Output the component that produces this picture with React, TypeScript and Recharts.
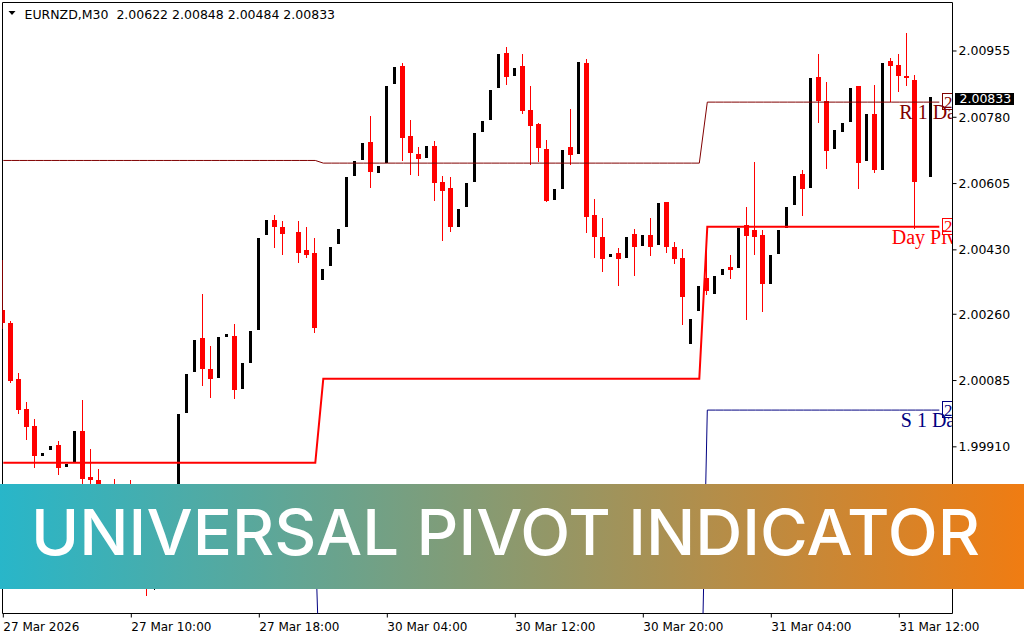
import React from "react";
import {
  Bar,
  ComposedChart,
  Line,
  ReferenceArea,
  ReferenceDot,
  XAxis,
  YAxis,
} from "recharts";

const symbol = "EURNZD,M30";
const lastQuote = [2.00622, 2.00848, 2.00484, 2.00833];

// M30 candles, one entry per bar (null = no candle drawn)
const opens = [
  2.00271, 2.00237, 2.00089, 2.0001, 1.99965, 1.99886, 1.99902, 1.99915, 1.99857, 1.9987,
  1.99952, 1.9983, 1.99822, 1.99778, 1.9973, 1.9969, 1.99717, 1.99643, 1.99598, 1.99545,
  1.99585, 1.99624, 1.99664, 1.99999, 2.00108, 2.00197, 2.00115, 2.00092, 2.002, 2.00203,
  2.00063, 2.00131, 2.00218, 2.00469, 2.00509, 2.0049, null, 2.00477, 2.0043, 2.00422,
  2.0035, 2.00387, 2.00445, 2.0049, 2.00625, 2.00667, 2.00715, 2.00633, 2.00659, 2.00868,
  2.00915, 2.00731, 2.00683, 2.00673, 2.00704, 2.00609, 2.00593, 2.0049, 2.00543, 2.00609,
  2.00741, 2.00773, 2.00857, 2.0095, 2.00889, 2.00915, 2.00799, 2.00762, 2.00696, 2.00562,
  2.00591, 2.00702, 2.00683, 2.00923, 2.00522, 2.00464, 2.00411, 2.00422, 2.00409, 2.00472,
  2.0044, 2.00469, 2.00443, 2.00556, 2.00438, 2.00409, 2.00181, 2.00269, 2.00356, 2.00313,
  2.00364, 2.00385, 2.00382, 2.00496, 2.00482, 2.00469, 2.0034, 2.00419, 2.00488, 2.00548,
  2.0063, 2.00593, 2.00886, 2.00823, 2.00696, 2.00741, 2.00768, 2.00863, 2.00665, 2.00789,
  2.00641, 2.00929, 2.00918, 2.00889, 2.00878, null, 2.00622,
];
const highs = [
  2.00403, 2.00242, 2.00105, 2.00028, 1.99983, 1.99894, 1.99912, 1.99925, 1.99865, 1.99952,
  2.00034, 1.99904, 1.99851, 1.99796, 1.99825, 1.99738, 1.99822, 1.99664, 1.99624, 1.99606,
  1.99643, 1.99685, 1.99997, 2.00102, 2.00192, 2.00313, 2.00176, 2.002, 2.00208, 2.00234,
  2.00131, 2.00216, 2.00461, 2.00509, 2.00522, 2.00506, null, 2.00506, 2.0049, 2.00461,
  2.00379, 2.00438, 2.00485, 2.00622, 2.00665, 2.00712, 2.00783, 2.00651, 2.00863, 2.00913,
  2.00923, 2.00773, 2.00702, 2.00704, 2.00717, 2.00625, 2.00622, 2.00538, 2.00607, 2.00739,
  2.0077, 2.00852, 2.00947, 2.00966, 2.0091, 2.00947, 2.00863, 2.00765, 2.0072, 2.00591,
  2.00694, 2.00802, 2.00926, 2.00934, 2.00564, 2.00514, 2.00419, 2.00435, 2.00464, 2.00485,
  2.00469, 2.00514, 2.00554, 2.00556, 2.00451, 2.00432, 2.00247, 2.00335, 2.00443, 2.00361,
  2.00379, 2.00416, 2.00488, 2.00543, 2.00662, 2.00482, 2.00416, 2.00482, 2.00543, 2.00625,
  2.00641, 2.00884, 2.00947, 2.00873, 2.00746, 2.00765, 2.00857, 2.00863, 2.00789, 2.00865,
  2.00923, 2.00937, 2.00947, 2.01003, 2.00892, null, 2.00833,
];
const lows = [
  2.00221, 2.00079, 1.99997, 1.99928, 1.99854, 1.99886, 1.99902, 1.99836, 1.99857, 1.9987,
  1.99791, 1.99796, 1.99756, 1.99712, 1.99669, 1.99664, 1.99632, 1.9958, 1.99516, 1.99532,
  1.99564, 1.99611, 1.99651, 1.99999, 2.00108, 2.00071, 2.00039, 2.00092, 2.002, 2.00036,
  2.00063, 2.00131, 2.00218, 2.00469, 2.00435, 2.00416, null, 2.00395, 2.00409, 2.00211,
  2.0035, 2.00387, 2.00445, 2.0049, 2.00625, 2.00667, 2.00593, 2.00633, 2.00659, 2.00868,
  2.00665, 2.00628, 2.00625, 2.00673, 2.00559, 2.00453, 2.00477, 2.0049, 2.00543, 2.00609,
  2.00741, 2.00773, 2.00857, 2.00865, 2.00889, 2.00789, 2.00654, 2.00662, 2.00556, 2.00562,
  2.00591, 2.00654, 2.00683, 2.00475, 2.00409, 2.00372, 2.00411, 2.00335, 2.00409, 2.00361,
  2.0044, 2.00414, 2.00443, 2.00422, 2.00393, 2.00232, 2.00181, 2.00269, 2.00311, 2.00313,
  2.00364, 2.00353, 2.00382, 2.00245, 2.00416, 2.00266, 2.0034, 2.00419, 2.00488, 2.00548,
  2.00519, 2.00593, 2.00765, 2.00643, 2.00696, 2.00741, 2.00768, 2.00591, 2.00665, 2.00633,
  2.00641, 2.0082, 2.00847, 2.00863, 2.00485, null, 2.00622,
];
const closes = [
  2.00237, 2.00084, 2.00007, 1.99962, 1.99886, 1.99894, 1.99912, 1.99854, 1.99865, 1.99952,
  1.99825, 1.99822, 1.99778, 1.9973, 1.9969, 1.99717, 1.99643, 1.99598, 1.99545, 1.99585,
  1.99624, 1.99664, 1.99997, 2.00102, 2.00192, 2.00115, 2.00089, 2.002, 2.00208, 2.0006,
  2.00131, 2.00216, 2.00461, 2.00509, 2.0049, 2.00472, null, 2.00422, 2.00416, 2.00224,
  2.00379, 2.00438, 2.00485, 2.00622, 2.00665, 2.00712, 2.00636, 2.00651, 2.00863, 2.00913,
  2.00725, 2.00686, 2.0067, 2.00704, 2.00607, 2.00585, 2.0049, 2.00538, 2.00607, 2.00739,
  2.0077, 2.00852, 2.00947, 2.00886, 2.0091, 2.00797, 2.00757, 2.00699, 2.00559, 2.00591,
  2.00694, 2.0068, 2.00926, 2.00517, 2.00464, 2.00406, 2.00419, 2.00406, 2.00464, 2.00438,
  2.00469, 2.00438, 2.00554, 2.00438, 2.00406, 2.00306, 2.00247, 2.00335, 2.00321, 2.00361,
  2.00379, 2.00377, 2.00488, 2.00467, 2.00464, 2.0034, 2.00416, 2.00482, 2.00543, 2.00625,
  2.00591, 2.00884, 2.00823, 2.00691, 2.00746, 2.00765, 2.00857, 2.00659, 2.00789, 2.00641,
  2.00923, 2.00915, 2.00889, 2.00884, 2.00609, null, 2.00833,
];

// daily pivot levels, each valid from its first bar
const dayStarts = [0, 40, 88];
const pivotLevels = [1.99868, 2.0009, 2.00491];
const r1Levels = [2.00666, 2.00659, 2.0082];
const s1Levels = [1.99664, 1.99, 2.00007];

// level captions as far as they show before the chart's right edge
const levelCaptions = { r1: "R 1 Da", pivot: "Day Piv", s1: "S 1 Da" };

const timeTicks = [0, 16, 32, 48, 64, 80, 96, 112];
const timeLabels = [
  "27 Mar 2026",
  "27 Mar 10:00",
  "27 Mar 18:00",
  "30 Mar 04:00",
  "30 Mar 12:00",
  "30 Mar 20:00",
  "31 Mar 04:00",
  "31 Mar 12:00",
];
const priceTicks = [1.9991, 2.00085, 2.0026, 2.0043, 2.00605, 2.0078, 2.00955];

const bannerTitle = "UNIVERSAL PIVOT INDICATOR";

const LINE_END = 117;
const X_DOMAIN = [-0.1, 118.65];
const Y_DOMAIN = [1.9947, 2.01083];
const AXIS_FONT = "'DejaVu Sans', Verdana, sans-serif";
const SERIF = "'Liberation Serif', 'DejaVu Serif', serif";

const dayOf = (i: number) => {
  let d = 0;
  dayStarts.forEach((s, j) => {
    if (i >= s) d = j;
  });
  return d;
};

const rows = Array.from({ length: LINE_END + 2 }, (_, i) => {
  const has = i < opens.length && opens[i] != null;
  const d = dayOf(i);
  const onLine = i <= LINE_END;
  return {
    i,
    o: has ? opens[i] : null,
    h: has ? highs[i] : null,
    l: has ? lows[i] : null,
    c: has ? closes[i] : null,
    range: has ? [lows[i], highs[i]] : null,
    pivot: onLine ? pivotLevels[d] : null,
    r1: onLine ? r1Levels[d] : null,
    s1: onLine ? s1Levels[d] : null,
  };
});

function Candle(props: any) {
  const { x, y, width, height, payload } = props;
  if (!payload || payload.o == null || !isFinite(y) || !isFinite(height)) return <g />;
  const top = Math.min(y, y + height);
  const h = Math.abs(height);
  const span = payload.h - payload.l;
  const k = span > 0 ? h / span : 0;
  const yO = top + (payload.h - payload.o) * k;
  const yC = top + (payload.h - payload.c) * k;
  const bull = payload.c >= payload.o;
  const color = bull ? "#000000" : "#ff0000";
  const cx = x + width / 2;
  const bw = bull ? 3 : 5;
  const left = Math.round(cx - bw / 2);
  const wickX = left + Math.floor(bw / 2) + 0.5;
  const bTop = Math.round(Math.min(yO, yC));
  const bBot = Math.max(bTop + 1, Math.round(Math.max(yO, yC)));
  return (
    <g shapeRendering="crispEdges">
      <line x1={wickX} x2={wickX} y1={Math.round(top)} y2={Math.round(top + h)} stroke={color} />
      <rect x={left} y={bTop} width={bw} height={bBot - bTop} fill={color} />
    </g>
  );
}

function TimeTick(props: any) {
  const { x, y, payload } = props;
  const label = timeLabels[timeTicks.indexOf(payload.value)];
  return (
    <text x={x} y={y + 11.5} textAnchor="start" fontFamily={AXIS_FONT} fontSize={12} fill="#000">
      {label}
    </text>
  );
}

function PriceTick(props: any) {
  const { x, y, payload } = props;
  return (
    <text x={x} y={y + 4.5} textAnchor="start" fontFamily={AXIS_FONT} fontSize={12.5} fill="#000">
      {Number(payload.value).toFixed(5)}
    </text>
  );
}

// price box + caption drawn at the end of a level line, cut at the plot's right edge
function levelTag(id: string, color: string, text: string, value: number, textDx: number) {
  return (props: any) => {
    const { cx, cy } = props;
    const bx = Math.round(cx + 3) + 0.5;
    const by = Math.round(cy - 9) + 0.5;
    return (
      <g>
        <defs>
          <clipPath id={id}>
            <rect x={0} y={0} width={952} height={640} />
          </clipPath>
        </defs>
        <g clipPath={`url(#${id})`}>
          <rect x={bx} y={by} width={12} height={16} fill="#ffffff" stroke={color} shapeRendering="crispEdges" />
          <text x={bx + 1.5} y={cy + 5.5} fontFamily={SERIF} fontSize={17} fill={color}>
            {value.toFixed(5).charAt(0)}
          </text>
          <text x={cx + textDx} y={cy + 17} fontFamily={SERIF} fontSize={20} fill={color}>
            {text}
          </text>
        </g>
      </g>
    );
  };
}

function PriceTag(props: any) {
  const { cx, cy } = props;
  const top = Math.round(cy) - 4;
  return (
    <g>
      <rect x={Math.round(cx) + 2} y={top} width={59} height={12} fill="#000" />
      <text x={Math.round(cx) + 6.5} y={top + 10} fontFamily={AXIS_FONT} fontSize={12.5} fill="#fff">
        {lastQuote[3].toFixed(5)}
      </text>
    </g>
  );
}

const last = dayStarts.length - 1;

export default function App() {
  const title = `${symbol}  ${lastQuote.map((v) => v.toFixed(5)).join(" ")}`;
  return (
    <div
      style={{
        position: "absolute",
        left: 0,
        top: 0,
        width: 1024,
        height: 640,
        background: "#ffffff",
        overflow: "hidden",
      }}
    >
      <ComposedChart
        width={1024}
        height={640}
        data={rows}
        margin={{ top: 2.5, right: 0, left: 2.5, bottom: 0 }}
      >
        <XAxis
          dataKey="i"
          type="number"
          domain={X_DOMAIN}
          allowDataOverflow
          ticks={timeTicks}
          interval={0}
          tickSize={4}
          tickLine={{ stroke: "#000" }}
          axisLine={false}
          tick={<TimeTick />}
          height={26.5}
        />
        <YAxis
          orientation="right"
          type="number"
          domain={Y_DOMAIN}
          allowDataOverflow
          ticks={priceTicks}
          interval={0}
          tickSize={4}
          tickLine={{ stroke: "#000" }}
          axisLine={false}
          tick={<PriceTick />}
          width={71.5}
        />
        <Bar dataKey="range" barSize={5} shape={Candle} isAnimationActive={false} />
        <Line
          dataKey="r1"
          type="linear"
          stroke="#800000"
          strokeWidth={1}
          dot={false}
          activeDot={false}
          isAnimationActive={false}
        />
        <Line
          dataKey="s1"
          type="linear"
          stroke="#000080"
          strokeWidth={1}
          dot={false}
          activeDot={false}
          isAnimationActive={false}
        />
        <Line
          dataKey="pivot"
          type="linear"
          stroke="#ff0000"
          strokeWidth={2}
          dot={false}
          activeDot={false}
          isAnimationActive={false}
        />
        <ReferenceDot
          x={LINE_END}
          y={r1Levels[last]}
          ifOverflow="visible"
          shape={levelTag("clipR1", "#800000", levelCaptions.r1, r1Levels[last], -40)}
        />
        <ReferenceDot
          x={LINE_END}
          y={pivotLevels[last]}
          ifOverflow="visible"
          shape={levelTag("clipPv", "#ff0000", levelCaptions.pivot, pivotLevels[last], -47.5)}
        />
        <ReferenceDot
          x={LINE_END}
          y={s1Levels[last]}
          ifOverflow="visible"
          shape={levelTag("clipS1", "#000080", levelCaptions.s1, s1Levels[last], -38.5)}
        />
        <ReferenceDot x={X_DOMAIN[1]} y={lastQuote[3]} ifOverflow="visible" shape={PriceTag} />
        <ReferenceArea
          x1={X_DOMAIN[0]}
          x2={X_DOMAIN[1]}
          y1={Y_DOMAIN[0]}
          y2={Y_DOMAIN[1]}
          fill="none"
          stroke="#000"
          strokeWidth={1}
          ifOverflow="visible"
        />
      </ComposedChart>
      <svg
        width={1024}
        height={640}
        style={{ position: "absolute", left: 0, top: 0, pointerEvents: "none" }}
      >
        <defs>
          <linearGradient id="bannerGrad" x1="0" y1="0" x2="1" y2="0">
            <stop offset="0%" stopColor="#28b6c9" />
            <stop offset="100%" stopColor="#f07c12" />
          </linearGradient>
        </defs>
        <polygon points="8.5,11 15.5,11 12,15" fill="#000" />
        <text
          x={24.5}
          y={18.5}
          fontFamily={AXIS_FONT}
          fontSize={12.5}
          fill="#000"
          style={{ whiteSpace: "pre" }}
        >
          {title}
        </text>
        <rect x={0} y={484} width={1024} height={105} fill="url(#bannerGrad)" />
        <text
          x={31}
          y={555}
          fontFamily="Inter, 'Open Sans', sans-serif"
          fontWeight={500}
          fontSize={63}
          fill="#ffffff"
          textLength={949}
          lengthAdjust="spacingAndGlyphs"
        >
          {bannerTitle}
        </text>
      </svg>
    </div>
  );
}
